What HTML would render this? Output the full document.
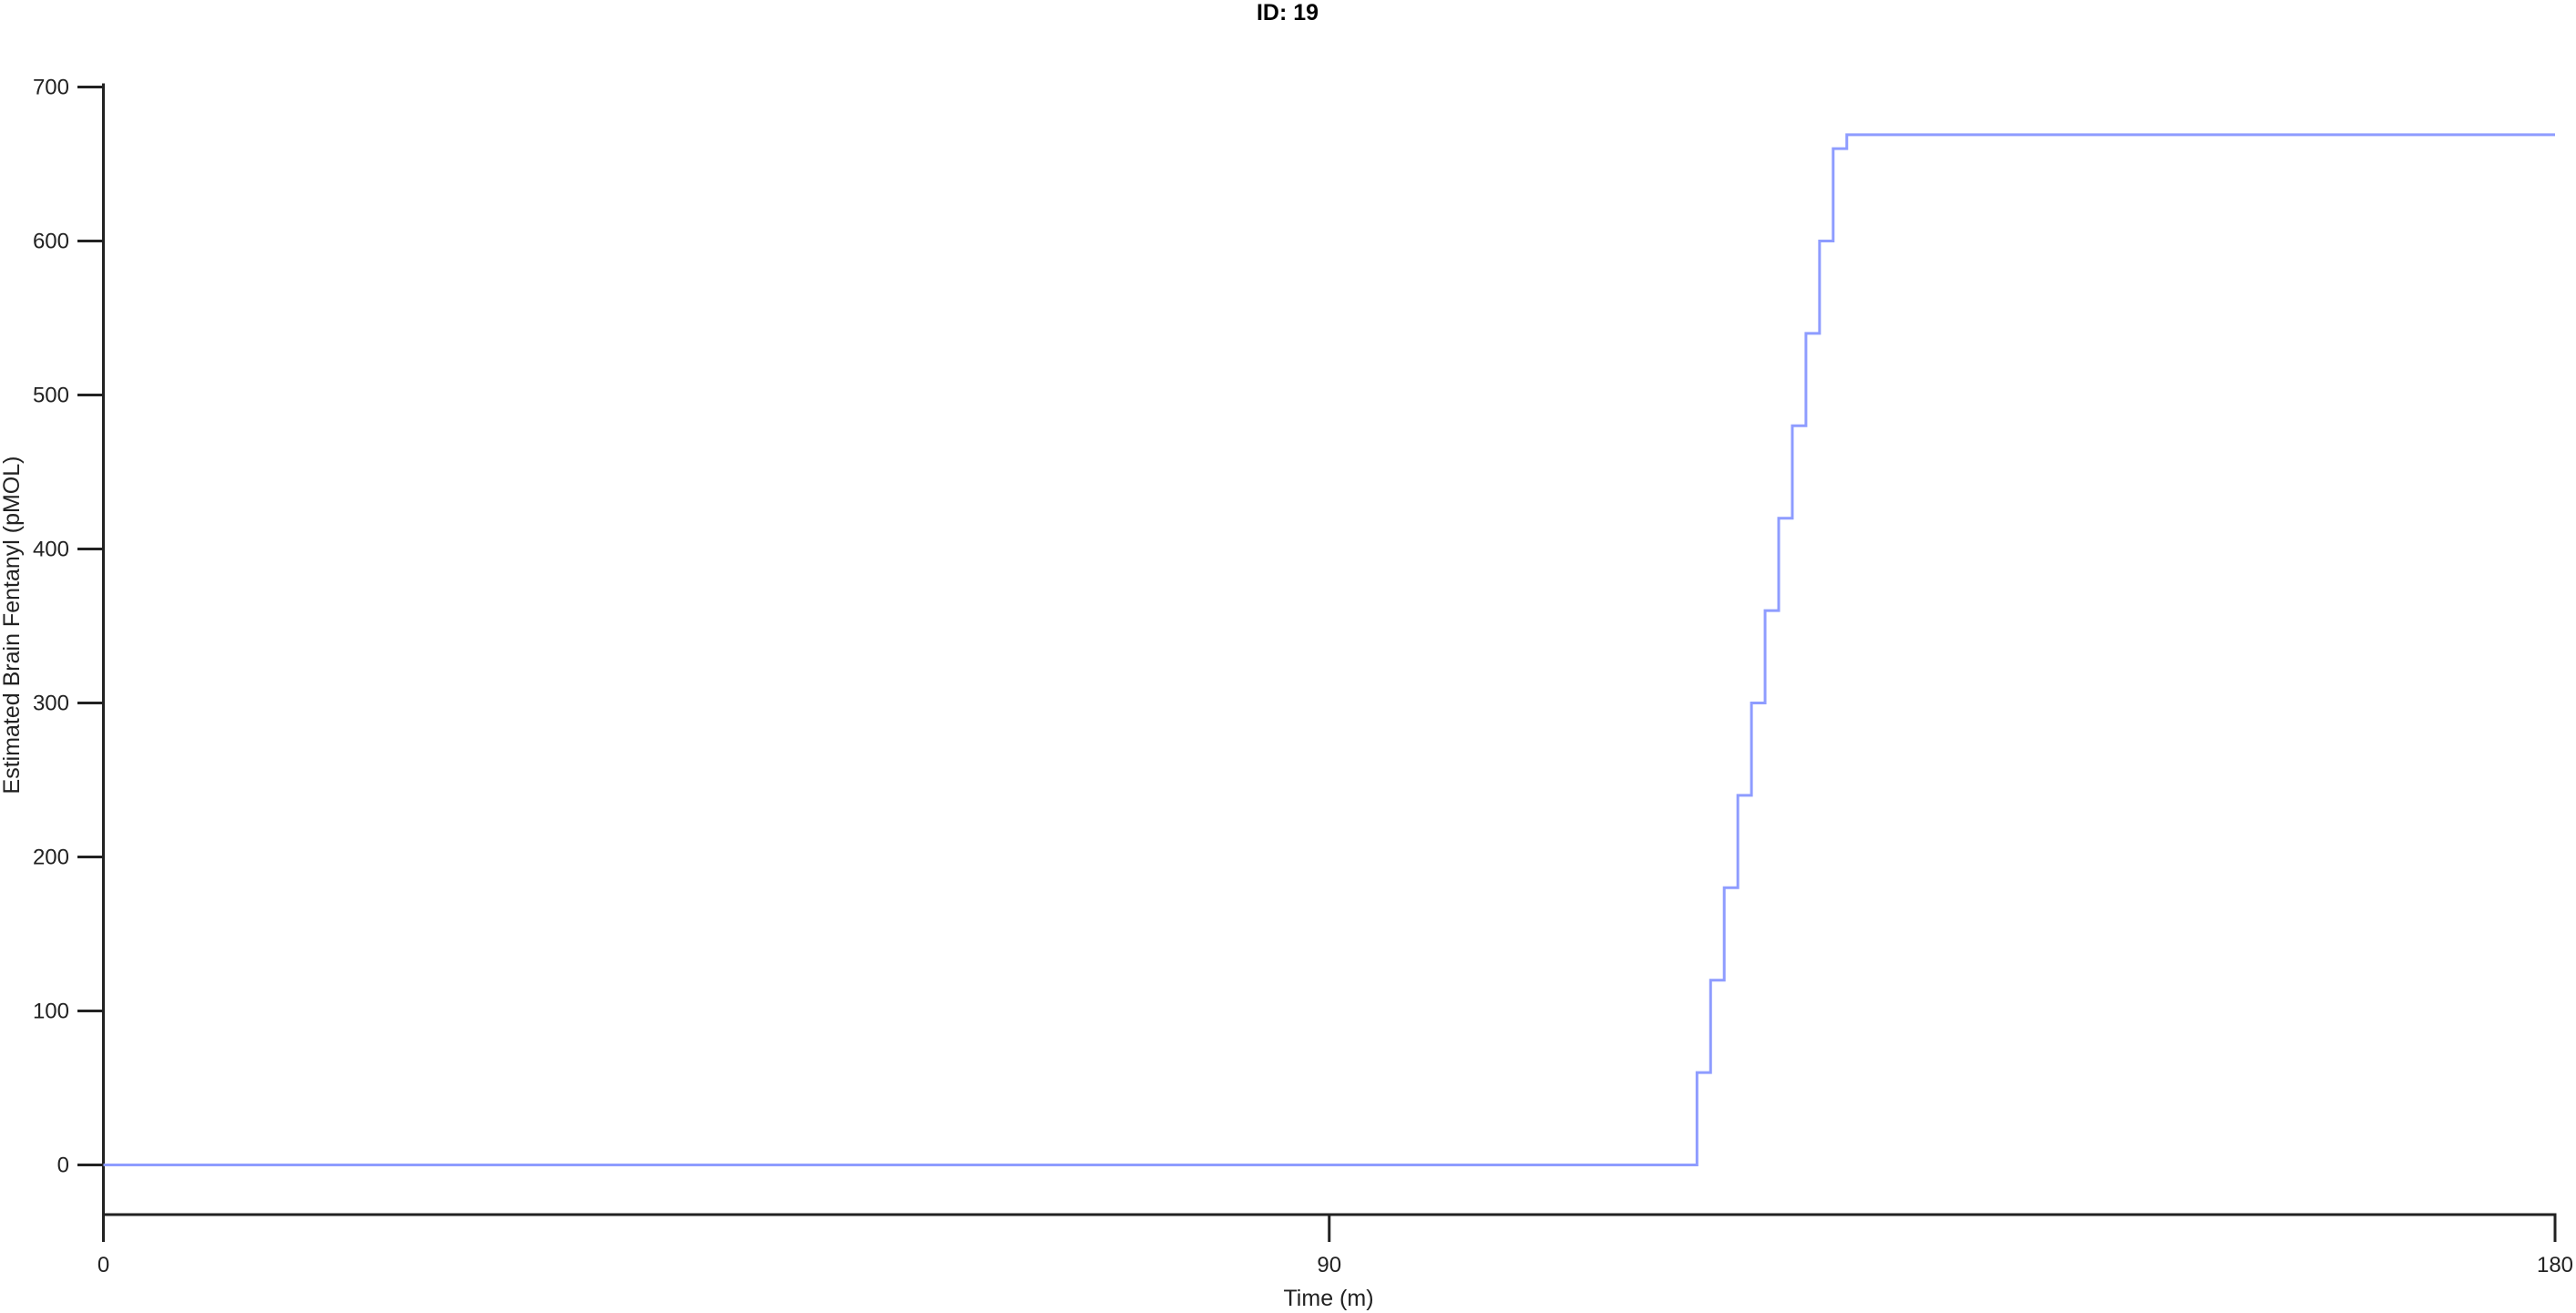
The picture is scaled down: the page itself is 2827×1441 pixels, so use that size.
<!DOCTYPE html>
<html><head><meta charset="utf-8"><style>
html,body{margin:0;padding:0;background:#fff;}
svg{display:block;font-family:"Liberation Sans",Arial,sans-serif;}
</style></head><body>
<svg id="chart" width="2827" height="1441" viewBox="0 0 2827 1441" xmlns="http://www.w3.org/2000/svg">
<text x="1413" y="22" font-size="25" font-weight="bold" text-anchor="middle" fill="#000">ID: 19</text>
<text transform="translate(21,686) rotate(-90)" font-size="25" text-anchor="middle" fill="#222">Estimated Brain Fentanyl (pMOL)</text>
<text x="1458" y="1433" font-size="25" text-anchor="middle" fill="#222">Time (m)</text>
<g id="axes"></g>
<g id="series"></g>
</svg>
<script>
const stepTimes = [0,117,118,119,120,121,122,123,124,125,126,127,128,180];
const stepValues = [0,60,120,180,240,300,360,420,480,540,600,660,669,669];
const yTicks = [0,100,200,300,400,500,600,700];
const xTicks = [0,90,180];

const NS='http://www.w3.org/2000/svg';
const X0=113.5,X1=2804,Y0=1278.5,Y700=95.5;
const xs=t=>X0+(X1-X0)*t/180;
const ys=v=>Y0+(Y700-Y0)*v/700;
const axes=document.getElementById('axes');
function mk(tag,attrs,parent){const e=document.createElementNS(NS,tag);for(const k in attrs)e.setAttribute(k,attrs[k]);parent.appendChild(e);return e;}
const yl=mk('line',{x1:X0,y1:ys(700)-4,x2:X0,y2:1363,stroke:'#222','stroke-width':3},axes);


const xl=mk('line',{x1:X0,y1:1333,x2:X1+1.5,y2:1333,stroke:'#222','stroke-width':3},axes);


yTicks.forEach(v=>{
  const t=mk('line',{x1:85,y1:ys(v),x2:X0,y2:ys(v),stroke:'#222','stroke-width':3},axes);
  
  
  const l=mk('text',{x:76,y:ys(v)+8,'font-size':24,'text-anchor':'end',fill:'#222'},axes);
  l.textContent=v;
  
  
});
xTicks.forEach(v=>{
  const t=mk('line',{x1:xs(v),y1:1333,x2:xs(v),y2:1363,stroke:'#222','stroke-width':3},axes);
  
  
  const l=mk('text',{x:xs(v),y:1396,'font-size':24,'text-anchor':'middle',fill:'#222'},axes);
  l.textContent=v;
  
  
});
let d='M'+xs(stepTimes[0])+','+ys(stepValues[0]);
for(let i=1;i<stepTimes.length;i++){
  d+=' H'+xs(stepTimes[i])+' V'+ys(stepValues[i]);
}
const p=mk('path',{d:d,fill:'none',stroke:'#8e9cff','stroke-width':3},document.getElementById('series'));


</script>
</body></html>
